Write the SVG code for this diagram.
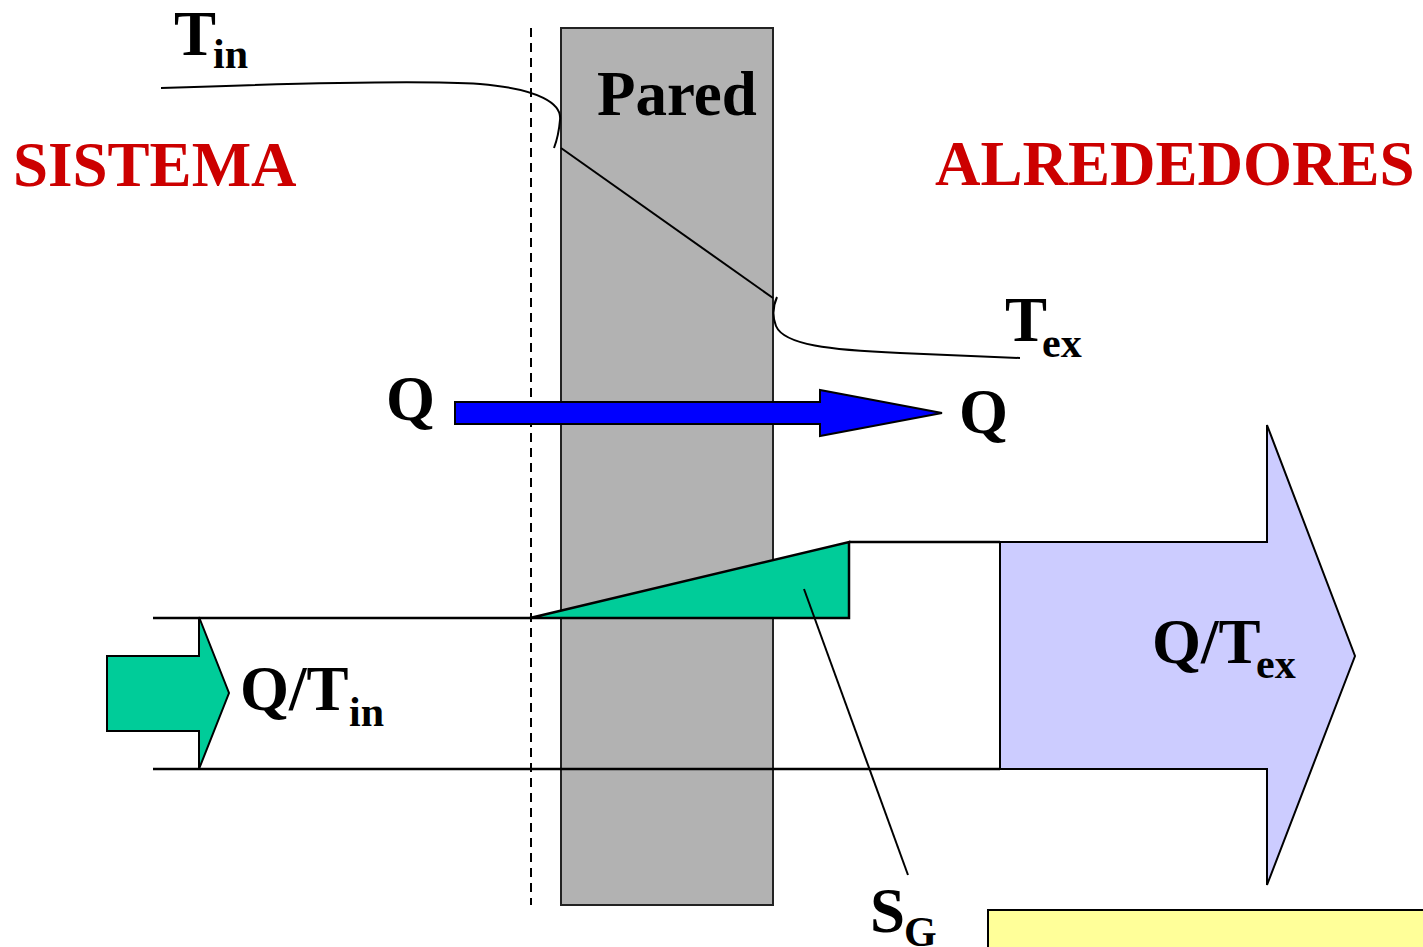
<svg xmlns="http://www.w3.org/2000/svg" width="1423" height="947" viewBox="0 0 1423 947">
<style>
text{font-family:"Liberation Serif","Times New Roman",serif;font-weight:bold;fill:#000}
.big{font-size:63px}
.sub{font-size:42px}
.red{fill:#cc0000;font-size:63px}
.thin{fill:none;stroke:#000;stroke-width:2}
</style>
<rect width="1423" height="947" fill="#fff"/>
<g id="wall">
<rect x="561" y="28" width="212" height="877" fill="#b2b2b2" stroke="#222" stroke-width="2"/>
<text class="big" x="597" y="115">Pared</text>
</g>
<g id="boundary">
<line x1="531" y1="28" x2="531" y2="905" stroke="#000" stroke-width="2" stroke-dasharray="9,6"/>
</g>
<g id="labels">
<text class="red" x="13" y="186">SISTEMA</text>
<text class="red" x="935" y="185">ALREDEDORES</text>
</g>
<g id="sg-wedge">
<polygon points="530,618 849,542 849,618" fill="#00cc99" stroke="#000" stroke-width="2.5" stroke-linejoin="miter"/>
</g>
<g id="connectors">
<path class="thin" d="M161,88 C300,83 420,80 480,84 C540,89 562,104 560,120 C559,132 557,140 554,148"/>
<line x1="561" y1="148" x2="773" y2="298" stroke="#000" stroke-width="2"/>
<path class="thin" d="M777,297 C773,306 772,316 776,326 C784,345 830,350 900,353 L1020,358"/>
<line x1="153" y1="618" x2="530" y2="618" stroke="#000" stroke-width="2.5"/>
<line x1="153" y1="769" x2="1000" y2="769" stroke="#000" stroke-width="2.5"/>
<line x1="849" y1="542" x2="1000" y2="542" stroke="#000" stroke-width="2.5"/>
<line x1="804" y1="589" x2="908" y2="875" stroke="#000" stroke-width="2"/>
</g>
<g id="t-in">
<text class="big" x="174" y="55">T</text>
<text class="sub" x="213" y="68">in</text>
</g>
<g id="t-ex">
<text class="big" x="1005" y="341">T</text>
<text class="sub" x="1042" y="357">ex</text>
</g>
<g id="q-flow">
<text class="big" x="386" y="420">Q</text>
<polygon points="455,402 820,402 820,390 942,413 820,436 820,424 455,424" fill="#0000ff" stroke="#000" stroke-width="2"/>
<text class="big" x="959" y="433">Q</text>
</g>
<g id="q-tin">
<polygon points="107,656 199,656 199,617 229,693 199,769 199,731 107,731" fill="#00cc99" stroke="#000" stroke-width="2"/>
<text class="big" x="240" y="710">Q/T</text>
<text class="sub" x="349" y="726">in</text>
</g>
<g id="q-tex">
<polygon points="1000,542 1267,542 1267,425 1355,656 1267,885 1267,769 1000,769" fill="#ccccff" stroke="#000" stroke-width="2"/>
<text class="big" x="1152" y="663">Q/T</text>
<text class="sub" x="1256" y="678">ex</text>
</g>
<g id="sg">
<text class="big" x="870" y="932">S</text>
<text class="sub" x="904" y="946">G</text>
</g>
<g id="note">
<rect x="988" y="910" width="440" height="50" fill="#ffff99" stroke="#000" stroke-width="2"/>
</g>
</svg>
